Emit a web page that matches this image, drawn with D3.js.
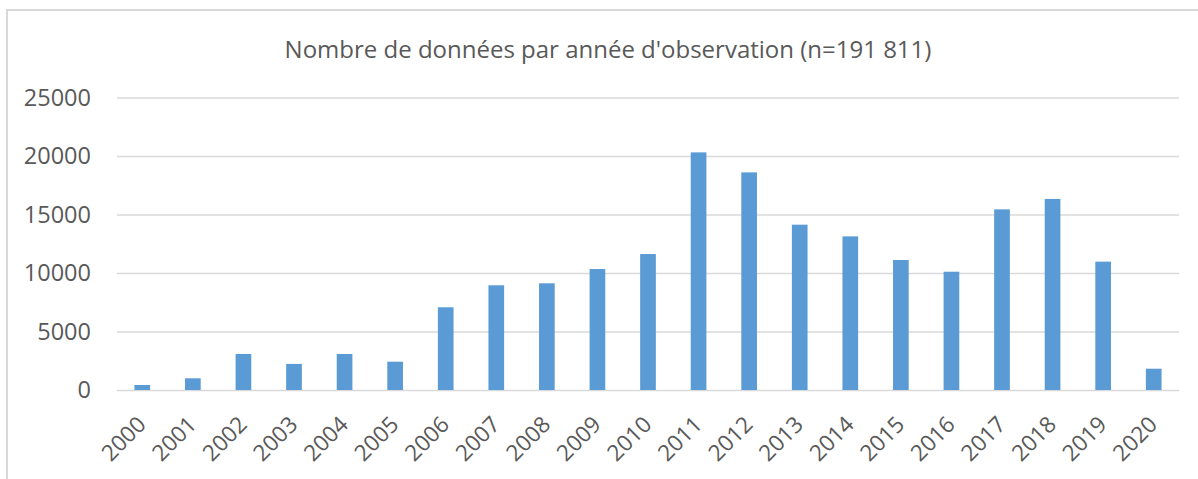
<!DOCTYPE html>
<html>
<head>
<meta charset="utf-8">
<script src="https://cdn.jsdelivr.net/npm/d3@7"></script>
<style>
  body { margin: 0; background: #fff; }
  svg text { font-family: "Open Sans", sans-serif; fill: #595959; }
</style>
</head>
<body>
<div id="chart"></div>
<script>
// years on the x axis
var years = ["2000","2001","2002","2003","2004","2005","2006","2007","2008","2009","2010",
             "2011","2012","2013","2014","2015","2016","2017","2018","2019","2020"];
// number of records per year
var counts = [430, 1000, 3080, 2230, 3080, 2420, 7070, 8950, 9120, 10340, 11620,
              20310, 18600, 14130, 13130, 11110, 10110, 15440, 16330, 10970, 1820];
var yTicks = [0, 5000, 10000, 15000, 20000, 25000];
var title = "Nombre de données par année d'observation (n=191 811)";

var width = 1198, height = 479;
var plotLeft = 117, plotRight = 1179, plotTop = 97.5, plotBottom = 390;

var svg = d3.select("#chart").append("svg")
    .attr("width", width)
    .attr("height", height);

// chart frame
svg.append("rect")
    .attr("x", 7).attr("y", 10)
    .attr("width", 1220).attr("height", 500)
    .attr("fill", "none")
    .attr("stroke", "#d9d9d9")
    .attr("stroke-width", 2);

svg.append("text")
    .attr("x", 608).attr("y", 58)
    .attr("text-anchor", "middle")
    .style("font-size", "24px")
    .text(title);

var x = d3.scaleBand()
    .domain(years)
    .range([plotLeft, plotRight])
    .paddingInner(0.69)
    .paddingOuter(0.345);

var y = d3.scaleLinear()
    .domain([0, 25000])
    .range([plotBottom, plotTop]);

// gridlines
svg.append("g")
    .attr("transform", "translate(" + plotLeft + ",0)")
    .call(d3.axisLeft(y).tickValues(yTicks).tickSize(-(plotRight - plotLeft)).tickFormat(""))
    .call(function(g){ g.select(".domain").remove(); })
    .selectAll("line")
    .attr("stroke", "#d9d9d9")
    .attr("stroke-width", 1.5);

// y labels
svg.append("g")
    .attr("transform", "translate(91,0)")
    .call(d3.axisLeft(y).tickValues(yTicks).tickSize(0).tickPadding(0).tickFormat(d3.format("d")))
    .call(function(g){ g.select(".domain").remove(); })
    .selectAll("text")
    .attr("fill", "#595959")
    .style("font-size", "23.5px")
    .style("font-family", "'Open Sans', sans-serif");

// bars
svg.append("g").selectAll("rect")
    .data(counts)
    .enter().append("rect")
    .attr("x", function(d, i){ return x(years[i]); })
    .attr("y", function(d){ return y(d); })
    .attr("width", x.bandwidth())
    .attr("height", function(d){ return plotBottom - y(d); })
    .attr("fill", "#5b9bd5");

// x labels
var xAxis = svg.append("g")
    .attr("transform", "translate(0," + plotBottom + ")")
    .call(d3.axisBottom(x).tickSize(0).tickPadding(0));
xAxis.select(".domain").remove();
xAxis.selectAll("text")
    .attr("fill", "#595959")
    .style("font-size", "22.5px")
    .style("font-family", "'Open Sans', sans-serif")
    .attr("text-anchor", "end")
    .attr("dy", null)
    .attr("y", 0)
    .attr("transform", "translate(5,36) rotate(-45)");
</script>
</body>
</html>
